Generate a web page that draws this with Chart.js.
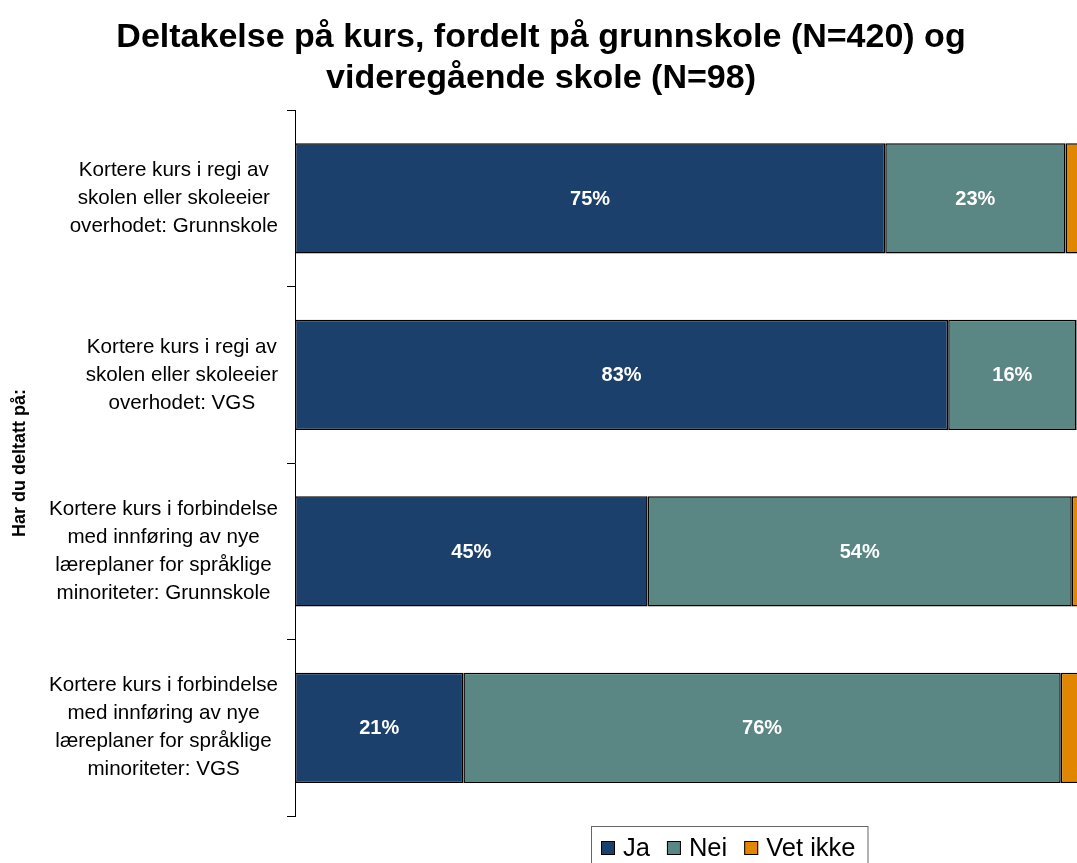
<!DOCTYPE html>
<html lang="no">
<head>
<meta charset="utf-8">
<title>Deltakelse på kurs</title>
<script src="https://cdn.jsdelivr.net/npm/chart.js@4/dist/chart.umd.min.js"></script>
<style>
  html, body { margin: 0; padding: 0; background: #fff; overflow: hidden; }
  #wrap { position: relative; width: 1083px; height: 863px; }
</style>
</head>
<body>
<div id="wrap"><canvas id="kurs"></canvas></div>
<script>
// Kategorier på y-aksen, en tekstlinje per element
const kategorier = [
  ['Kortere kurs i regi av', 'skolen eller skoleeier', 'overhodet: Grunnskole'],
  ['Kortere kurs i regi av', 'skolen eller skoleeier', 'overhodet: VGS'],
  ['Kortere kurs i forbindelse', 'med innføring av nye', 'læreplaner for språklige', 'minoriteter: Grunnskole'],
  ['Kortere kurs i forbindelse', 'med innføring av nye', 'læreplaner for språklige', 'minoriteter: VGS']
];

// Andeler i prosent (avlest, vises avrundet)
const ja = [75.0, 83.0, 44.8, 21.4];
const nei = [22.9, 16.3, 53.9, 75.9];
const vetIkke = [2.1, 0.7, 1.3, 2.7];

const serieNavn = ['Ja', 'Nei', 'Vet ikke'];
const farger = ['#1B406B', '#5A8783', '#E08600'];

const FONT = '"Liberation Sans", Arial, sans-serif';
Chart.defaults.font.family = FONT;
Chart.defaults.color = '#000';

// Kategoritekst: blokken høyrejustert mot aksen, linjene sentrert i blokken
const yEtiketter = {
  id: 'yEtiketter',
  afterDraw(chart) {
    const ctx = chart.ctx;
    const y = chart.scales.y;
    const linjeHoyde = 28;
    ctx.save();
    ctx.font = '20.6px ' + FONT;
    ctx.fillStyle = '#000';
    ctx.textAlign = 'center';
    ctx.textBaseline = 'middle';
    chart.data.labels.forEach((linjer, i) => {
      const midt = y.getPixelForValue(i);
      const bredde = Math.max(...linjer.map(l => ctx.measureText(l).width));
      const cx = y.right - 17 - bredde / 2;
      linjer.forEach((l, j) => {
        ctx.fillText(l, cx, midt + (j - (linjer.length - 1) / 2) * linjeHoyde);
      });
    });
    ctx.restore();
  }
};

// Prosenttall midt i hvert segment (ikke for de små)
const verdiEtiketter = {
  id: 'verdiEtiketter',
  afterDatasetsDraw(chart) {
    const ctx = chart.ctx;
    ctx.save();
    ctx.font = 'bold 20px ' + FONT;
    ctx.fillStyle = '#fff';
    ctx.textAlign = 'center';
    ctx.textBaseline = 'middle';
    chart.data.datasets.forEach((ds, d) => {
      chart.getDatasetMeta(d).data.forEach((bar, i) => {
        const v = ds.data[i];
        if (v < 5) return;
        const p = bar.getCenterPoint();
        ctx.fillText(Math.round(v) + '%', p.x, p.y + 1);
      });
    });
    ctx.restore();
  }
};

// Tegnforklaring med ramme nederst
const forklaring = {
  id: 'forklaring',
  afterDraw(chart) {
    const ctx = chart.ctx;
    const venstre = 591, topp = 826, midtY = 848;
    ctx.save();
    ctx.font = '25.5px ' + FONT;
    ctx.textBaseline = 'middle';
    ctx.textAlign = 'left';
    let x = venstre + 10;
    chart.data.datasets.forEach((ds) => {
      ctx.fillStyle = ds.backgroundColor;
      ctx.fillRect(x, midtY - 7, 14, 14);
      ctx.strokeStyle = '#000';
      ctx.lineWidth = 1;
      ctx.strokeRect(x + 0.5, midtY - 6.5, 13, 13);
      x += 14 + 8;
      ctx.fillStyle = '#000';
      ctx.fillText(ds.label, x, midtY + 1);
      x += ctx.measureText(ds.label).width + 17;
    });
    const hoyre = x - 17 + 12;
    ctx.strokeStyle = '#666';
    ctx.strokeRect(venstre + 0.5, topp + 0.5, hoyre - venstre, 60);
    ctx.restore();
  }
};

const ctx = document.getElementById('kurs').getContext('2d');

new Chart(ctx, {
  type: 'bar',
  data: {
    labels: kategorier,
    datasets: [ja, nei, vetIkke].map((verdier, i) => ({
      label: serieNavn[i],
      data: verdier,
      backgroundColor: farger[i],
      borderColor: '#000',
      borderWidth: 1.5,
      borderSkipped: false,
      barPercentage: 0.625,
      categoryPercentage: 1
    }))
  },
  options: {
    indexAxis: 'y',
    responsive: true,
    maintainAspectRatio: false,
    animation: false,
    layout: { padding: { left: 0, right: 1, top: 0, bottom: 47 } },
    scales: {
      x: { stacked: true, min: 0, max: 100, display: false },
      y: {
        stacked: true,
        ticks: { display: false },
        grid: { drawOnChartArea: false, drawTicks: true, tickLength: 8, color: '#000', offset: true },
        border: { color: '#000', width: 1 },
        title: {
          display: true,
          text: 'Har du deltatt på:',
          font: { size: 18, weight: 'bold' },
          color: '#000',
          padding: { top: 9, bottom: 0 }
        },
        afterFit(scale) { scale.width = 295; }
      }
    },
    plugins: {
      legend: { display: false },
      title: {
        display: true,
        text: ['Deltakelse på kurs, fordelt på grunnskole (N=420) og', 'videregående skole (N=98)'],
        font: { size: 34, weight: 'bold', lineHeight: 1.18 },
        color: '#000',
        padding: { top: 18, bottom: 12 }
      },
      tooltip: {
        callbacks: {
          title: items => items[0].label.replace(/,/g, ' '),
          label: item => item.dataset.label + ': ' + Math.round(item.raw) + '%'
        }
      }
    }
  },
  plugins: [yEtiketter, verdiEtiketter, forklaring]
});
</script>
</body>
</html>
